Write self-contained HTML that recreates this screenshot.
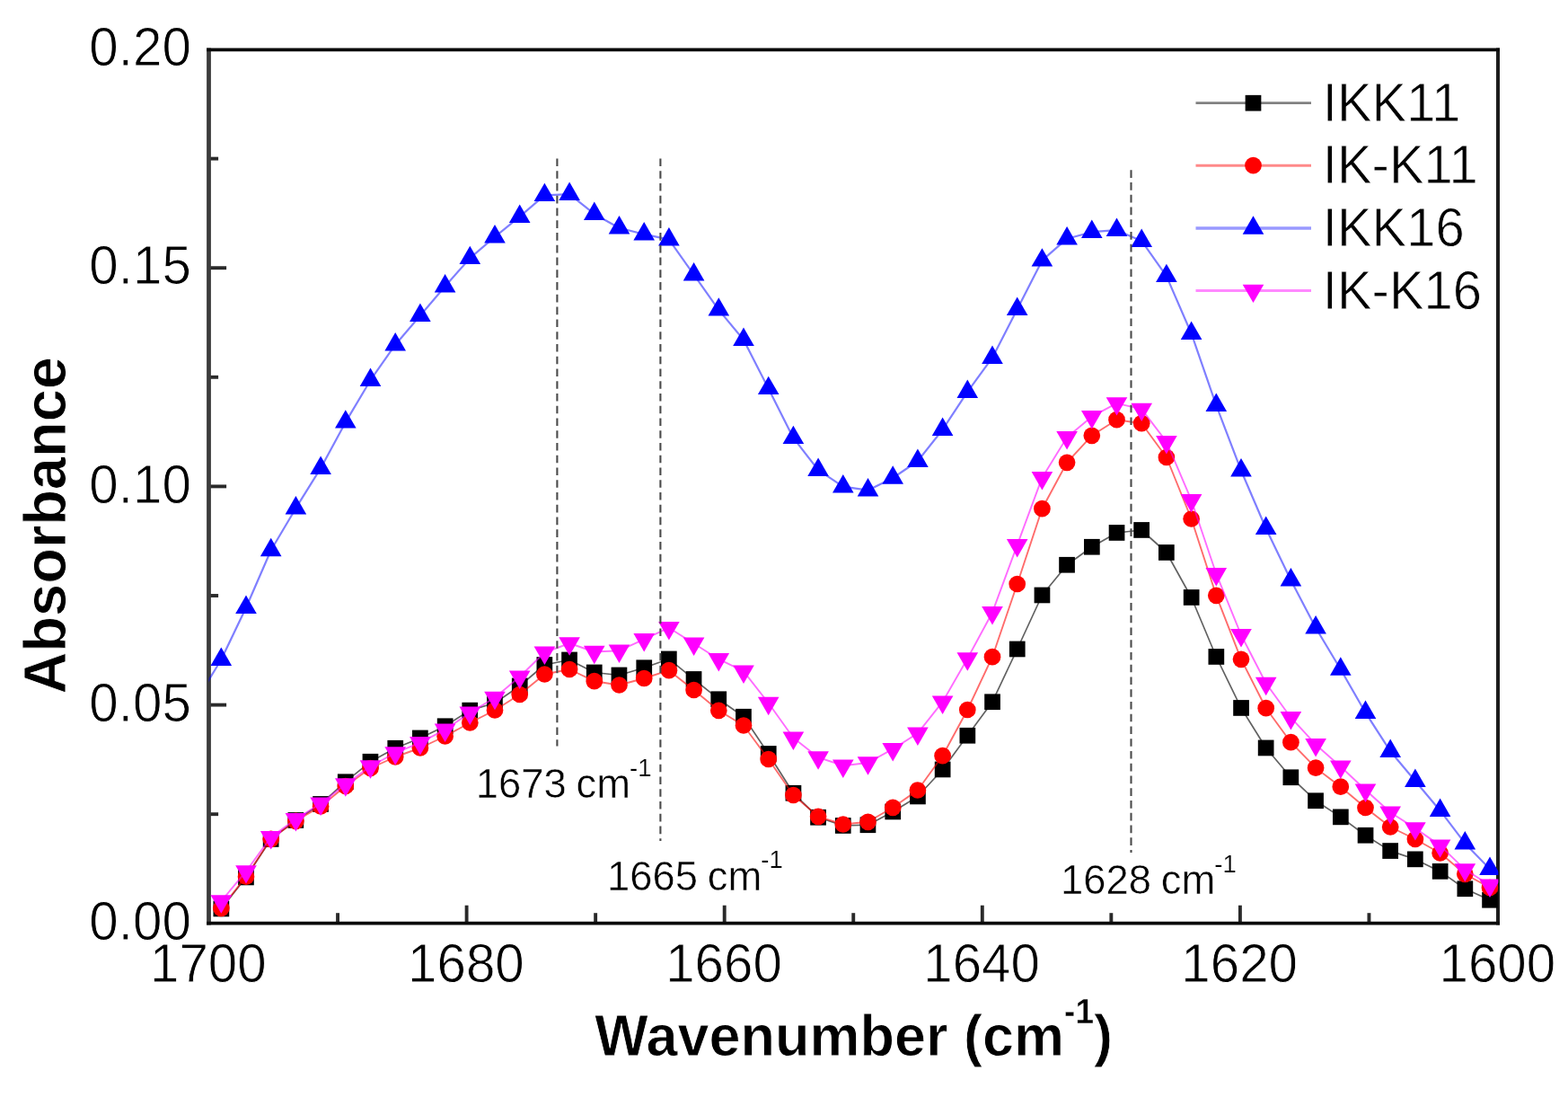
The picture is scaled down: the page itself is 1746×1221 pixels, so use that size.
<!DOCTYPE html>
<html lang="en">
<head>
<meta charset="utf-8">
<title>FTIR absorbance spectra</title>
<style>
html,body{margin:0;padding:0;background:#fff;}
body{width:1746px;height:1221px;overflow:hidden;}
svg{display:block;}
text{font-family:"Liberation Sans",sans-serif;fill:#000;stroke:#fff;stroke-width:0.8px;stroke-linejoin:round;}
.tick{font-size:58.3px;}
.title{font-size:63px;font-weight:bold;}
.ann{font-size:45.4px;word-spacing:-1.8px;stroke-width:0.5px;}
.leg{font-size:58px;}
</style>
</head>
<body>
<svg width="1746" height="1221" viewBox="0 0 1746 1221">
<rect x="0" y="0" width="1746" height="1221" fill="#fff"/>
<g>
<defs><clipPath id="plot"><rect x="232.4" y="55.0" width="1436.0" height="972.8"/></clipPath></defs>

<g stroke="#2a2a2a" stroke-width="3.9" fill="none">
<line x1="376.05" y1="1027.8" x2="376.05" y2="1016.2"/>
<line x1="519.60" y1="1027.8" x2="519.60" y2="1007.7"/>
<line x1="663.15" y1="1027.8" x2="663.15" y2="1016.2"/>
<line x1="806.70" y1="1027.8" x2="806.70" y2="1007.7"/>
<line x1="950.25" y1="1027.8" x2="950.25" y2="1016.2"/>
<line x1="1093.80" y1="1027.8" x2="1093.80" y2="1007.7"/>
<line x1="1237.35" y1="1027.8" x2="1237.35" y2="1016.2"/>
<line x1="1380.90" y1="1027.8" x2="1380.90" y2="1007.7"/>
<line x1="1524.45" y1="1027.8" x2="1524.45" y2="1016.2"/>
<line x1="232.5" y1="906.20" x2="243.1" y2="906.20"/>
<line x1="232.5" y1="784.60" x2="252.1" y2="784.60"/>
<line x1="232.5" y1="663.00" x2="243.1" y2="663.00"/>
<line x1="232.5" y1="541.40" x2="252.1" y2="541.40"/>
<line x1="232.5" y1="419.80" x2="243.1" y2="419.80"/>
<line x1="232.5" y1="298.20" x2="252.1" y2="298.20"/>
<line x1="232.5" y1="176.60" x2="243.1" y2="176.60"/>
</g>
<g fill="none" stroke-linecap="butt">
<line x1="232.5" y1="53.4" x2="232.5" y2="1029.6" stroke="#3c3c3c" stroke-width="4.8"/>
<line x1="1668" y1="53.4" x2="1668" y2="1029.6" stroke="#1c1c1c" stroke-width="4"/>
<line x1="230.1" y1="55.3" x2="1670" y2="55.3" stroke="#0a0a0a" stroke-width="3.7"/>
<line x1="230.1" y1="1027.7" x2="1670" y2="1027.7" stroke="#0a0a0a" stroke-width="3.8"/>
</g>
<g clip-path="url(#plot)">
<polyline points="246.3,1011.5 274.0,976.5 301.7,934.0 329.4,913.0 357.1,895.0 384.8,870.2 412.5,847.8 440.2,832.8 467.9,821.5 495.6,808.2 523.3,790.6 551.0,782.5 578.7,763.5 606.4,740.0 634.1,734.5 661.8,748.5 689.5,751.5 717.2,743.2 744.9,733.5 772.6,756.0 800.3,778.2 828.0,797.8 855.7,839.0 883.4,882.8 911.1,909.8 938.8,919.0 966.5,918.2 994.2,903.5 1021.9,886.5 1049.6,856.5 1077.3,818.8 1105.0,781.2 1132.7,722.5 1160.4,662.5 1188.1,628.8 1215.8,608.8 1243.5,593.0 1271.2,590.0 1298.9,615.0 1326.6,665.0 1354.3,731.0 1382.0,788.0 1409.7,832.5 1437.4,865.2 1465.1,891.2 1492.8,909.4 1520.5,929.7 1548.2,947.1 1575.9,956.4 1603.6,969.9 1631.3,989.2 1659.0,1001.7" fill="none" stroke="#000" stroke-width="1.7" stroke-opacity="0.62" stroke-linejoin="round"/>
<g fill="#000"><rect x="237.5" y="1002.6" width="17.7" height="17.7"/><rect x="265.1" y="967.6" width="17.7" height="17.7"/><rect x="292.8" y="925.1" width="17.7" height="17.7"/><rect x="320.5" y="904.1" width="17.7" height="17.7"/><rect x="348.2" y="886.1" width="17.7" height="17.7"/><rect x="375.9" y="861.4" width="17.7" height="17.7"/><rect x="403.6" y="838.9" width="17.7" height="17.7"/><rect x="431.4" y="823.9" width="17.7" height="17.7"/><rect x="459.0" y="812.6" width="17.7" height="17.7"/><rect x="486.8" y="799.4" width="17.7" height="17.7"/><rect x="514.4" y="781.8" width="17.7" height="17.7"/><rect x="542.1" y="773.6" width="17.7" height="17.7"/><rect x="569.9" y="754.6" width="17.7" height="17.7"/><rect x="597.5" y="731.1" width="17.7" height="17.7"/><rect x="625.2" y="725.6" width="17.7" height="17.7"/><rect x="652.9" y="739.6" width="17.7" height="17.7"/><rect x="680.6" y="742.6" width="17.7" height="17.7"/><rect x="708.4" y="734.4" width="17.7" height="17.7"/><rect x="736.0" y="724.6" width="17.7" height="17.7"/><rect x="763.7" y="747.1" width="17.7" height="17.7"/><rect x="791.4" y="769.4" width="17.7" height="17.7"/><rect x="819.1" y="788.9" width="17.7" height="17.7"/><rect x="846.9" y="830.1" width="17.7" height="17.7"/><rect x="874.6" y="873.9" width="17.7" height="17.7"/><rect x="902.2" y="900.9" width="17.7" height="17.7"/><rect x="929.9" y="910.1" width="17.7" height="17.7"/><rect x="957.6" y="909.4" width="17.7" height="17.7"/><rect x="985.4" y="894.6" width="17.7" height="17.7"/><rect x="1013.1" y="877.6" width="17.7" height="17.7"/><rect x="1040.8" y="847.6" width="17.7" height="17.7"/><rect x="1068.5" y="809.9" width="17.7" height="17.7"/><rect x="1096.2" y="772.4" width="17.7" height="17.7"/><rect x="1123.9" y="713.6" width="17.7" height="17.7"/><rect x="1151.6" y="653.6" width="17.7" height="17.7"/><rect x="1179.2" y="619.9" width="17.7" height="17.7"/><rect x="1207.0" y="599.9" width="17.7" height="17.7"/><rect x="1234.7" y="584.1" width="17.7" height="17.7"/><rect x="1262.3" y="581.1" width="17.7" height="17.7"/><rect x="1290.0" y="606.1" width="17.7" height="17.7"/><rect x="1317.8" y="656.1" width="17.7" height="17.7"/><rect x="1345.5" y="722.1" width="17.7" height="17.7"/><rect x="1373.2" y="779.1" width="17.7" height="17.7"/><rect x="1400.8" y="823.6" width="17.7" height="17.7"/><rect x="1428.5" y="856.4" width="17.7" height="17.7"/><rect x="1456.2" y="882.4" width="17.7" height="17.7"/><rect x="1484.0" y="900.5" width="17.7" height="17.7"/><rect x="1511.7" y="920.9" width="17.7" height="17.7"/><rect x="1539.3" y="938.2" width="17.7" height="17.7"/><rect x="1567.0" y="947.5" width="17.7" height="17.7"/><rect x="1594.8" y="961.0" width="17.7" height="17.7"/><rect x="1622.5" y="980.4" width="17.7" height="17.7"/><rect x="1650.2" y="992.9" width="17.7" height="17.7"/></g>
<polyline points="246.3,1010.8 274.0,975.7 301.7,933.8 329.4,913.8 357.1,897.5 384.8,875.0 412.5,855.0 440.2,842.5 467.9,832.5 495.6,819.5 523.3,804.5 551.0,790.5 578.7,773.0 606.4,750.5 634.1,745.0 661.8,758.2 689.5,762.5 717.2,755.0 744.9,746.2 772.6,768.0 800.3,790.8 828.0,807.5 855.7,845.0 883.4,885.0 911.1,908.8 938.8,917.5 966.5,914.8 994.2,898.8 1021.9,879.5 1049.6,841.2 1077.3,790.0 1105.0,731.2 1132.7,650.0 1160.4,566.2 1188.1,514.8 1215.8,484.8 1243.5,467.2 1271.2,471.2 1298.9,509.0 1326.6,577.5 1354.3,662.8 1382.0,733.8 1409.7,788.2 1437.4,826.2 1465.1,854.7 1492.8,875.7 1520.5,899.0 1548.2,920.5 1575.9,934.0 1603.6,949.5 1631.3,972.8 1659.0,988.0" fill="none" stroke="#f00" stroke-width="1.9" stroke-opacity="0.58" stroke-linejoin="round"/>
<g fill="#f00"><circle cx="246.3" cy="1010.8" r="9.35"/><circle cx="274.0" cy="975.7" r="9.35"/><circle cx="301.7" cy="933.8" r="9.35"/><circle cx="329.4" cy="913.8" r="9.35"/><circle cx="357.1" cy="897.5" r="9.35"/><circle cx="384.8" cy="875.0" r="9.35"/><circle cx="412.5" cy="855.0" r="9.35"/><circle cx="440.2" cy="842.5" r="9.35"/><circle cx="467.9" cy="832.5" r="9.35"/><circle cx="495.6" cy="819.5" r="9.35"/><circle cx="523.3" cy="804.5" r="9.35"/><circle cx="551.0" cy="790.5" r="9.35"/><circle cx="578.7" cy="773.0" r="9.35"/><circle cx="606.4" cy="750.5" r="9.35"/><circle cx="634.1" cy="745.0" r="9.35"/><circle cx="661.8" cy="758.2" r="9.35"/><circle cx="689.5" cy="762.5" r="9.35"/><circle cx="717.2" cy="755.0" r="9.35"/><circle cx="744.9" cy="746.2" r="9.35"/><circle cx="772.6" cy="768.0" r="9.35"/><circle cx="800.3" cy="790.8" r="9.35"/><circle cx="828.0" cy="807.5" r="9.35"/><circle cx="855.7" cy="845.0" r="9.35"/><circle cx="883.4" cy="885.0" r="9.35"/><circle cx="911.1" cy="908.8" r="9.35"/><circle cx="938.8" cy="917.5" r="9.35"/><circle cx="966.5" cy="914.8" r="9.35"/><circle cx="994.2" cy="898.8" r="9.35"/><circle cx="1021.9" cy="879.5" r="9.35"/><circle cx="1049.6" cy="841.2" r="9.35"/><circle cx="1077.3" cy="790.0" r="9.35"/><circle cx="1105.0" cy="731.2" r="9.35"/><circle cx="1132.7" cy="650.0" r="9.35"/><circle cx="1160.4" cy="566.2" r="9.35"/><circle cx="1188.1" cy="514.8" r="9.35"/><circle cx="1215.8" cy="484.8" r="9.35"/><circle cx="1243.5" cy="467.2" r="9.35"/><circle cx="1271.2" cy="471.2" r="9.35"/><circle cx="1298.9" cy="509.0" r="9.35"/><circle cx="1326.6" cy="577.5" r="9.35"/><circle cx="1354.3" cy="662.8" r="9.35"/><circle cx="1382.0" cy="733.8" r="9.35"/><circle cx="1409.7" cy="788.2" r="9.35"/><circle cx="1437.4" cy="826.2" r="9.35"/><circle cx="1465.1" cy="854.7" r="9.35"/><circle cx="1492.8" cy="875.7" r="9.35"/><circle cx="1520.5" cy="899.0" r="9.35"/><circle cx="1548.2" cy="920.5" r="9.35"/><circle cx="1575.9" cy="934.0" r="9.35"/><circle cx="1603.6" cy="949.5" r="9.35"/><circle cx="1631.3" cy="972.8" r="9.35"/><circle cx="1659.0" cy="988.0" r="9.35"/></g>
<polyline points="218.6,779.6 246.3,734.2 274.0,676.2 301.7,612.5 329.4,565.7 357.1,521.2 384.8,469.9 412.5,423.2 440.2,383.7 467.9,351.2 495.6,318.7 523.3,287.4 551.0,263.7 578.7,241.2 606.4,217.4 634.1,216.2 661.8,238.2 689.5,253.7 717.2,260.7 744.9,266.7 772.6,305.7 800.3,344.9 828.0,378.2 855.7,432.4 883.4,487.4 911.1,523.2 938.8,541.7 966.5,545.7 994.2,532.0 1021.9,513.2 1049.6,478.2 1077.3,436.2 1105.0,398.2 1132.7,344.2 1160.4,289.9 1188.1,265.7 1215.8,258.2 1243.5,256.2 1271.2,268.2 1298.9,307.4 1326.6,371.2 1354.3,451.2 1382.0,523.7 1409.7,588.2 1437.4,645.7 1465.1,698.7 1492.8,745.0 1520.5,793.2 1548.2,836.2 1575.9,869.2 1603.6,902.2 1631.3,938.7 1659.0,967.2" fill="none" stroke="#00f" stroke-width="2.2" stroke-opacity="0.5" stroke-linejoin="round"/>
<g fill="#00f"><polygon points="246.3,720.5 234.5,740.9 258.1,740.9"/><polygon points="274.0,662.5 262.2,682.9 285.8,682.9"/><polygon points="301.7,598.8 289.9,619.2 313.5,619.2"/><polygon points="329.4,552.0 317.6,572.4 341.2,572.4"/><polygon points="357.1,507.5 345.3,527.9 368.9,527.9"/><polygon points="384.8,456.2 373.0,476.6 396.6,476.6"/><polygon points="412.5,409.5 400.7,429.9 424.3,429.9"/><polygon points="440.2,370.0 428.4,390.4 452.0,390.4"/><polygon points="467.9,337.5 456.1,357.9 479.7,357.9"/><polygon points="495.6,305.0 483.8,325.4 507.4,325.4"/><polygon points="523.3,273.8 511.5,294.1 535.1,294.1"/><polygon points="551.0,250.0 539.2,270.4 562.8,270.4"/><polygon points="578.7,227.5 566.9,247.9 590.5,247.9"/><polygon points="606.4,203.8 594.6,224.1 618.2,224.1"/><polygon points="634.1,202.5 622.3,222.9 645.9,222.9"/><polygon points="661.8,224.5 650.0,244.9 673.6,244.9"/><polygon points="689.5,240.0 677.7,260.4 701.3,260.4"/><polygon points="717.2,247.0 705.4,267.4 729.0,267.4"/><polygon points="744.9,253.0 733.1,273.4 756.7,273.4"/><polygon points="772.6,292.0 760.8,312.4 784.4,312.4"/><polygon points="800.3,331.2 788.5,351.6 812.1,351.6"/><polygon points="828.0,364.5 816.2,384.9 839.8,384.9"/><polygon points="855.7,418.8 843.9,439.1 867.5,439.1"/><polygon points="883.4,473.8 871.6,494.1 895.2,494.1"/><polygon points="911.1,509.5 899.3,529.9 922.9,529.9"/><polygon points="938.8,528.0 927.0,548.4 950.6,548.4"/><polygon points="966.5,532.0 954.7,552.4 978.3,552.4"/><polygon points="994.2,518.2 982.4,538.7 1006.0,538.7"/><polygon points="1021.9,499.5 1010.1,519.9 1033.7,519.9"/><polygon points="1049.6,464.5 1037.8,484.9 1061.4,484.9"/><polygon points="1077.3,422.5 1065.5,442.9 1089.1,442.9"/><polygon points="1105.0,384.5 1093.2,404.9 1116.8,404.9"/><polygon points="1132.7,330.5 1120.9,350.9 1144.5,350.9"/><polygon points="1160.4,276.2 1148.6,296.6 1172.2,296.6"/><polygon points="1188.1,252.0 1176.3,272.4 1199.9,272.4"/><polygon points="1215.8,244.5 1204.0,264.9 1227.6,264.9"/><polygon points="1243.5,242.5 1231.7,262.9 1255.3,262.9"/><polygon points="1271.2,254.5 1259.4,274.9 1283.0,274.9"/><polygon points="1298.9,293.8 1287.1,314.1 1310.7,314.1"/><polygon points="1326.6,357.5 1314.8,377.9 1338.4,377.9"/><polygon points="1354.3,437.5 1342.5,457.9 1366.1,457.9"/><polygon points="1382.0,510.0 1370.2,530.4 1393.8,530.4"/><polygon points="1409.7,574.5 1397.9,594.9 1421.5,594.9"/><polygon points="1437.4,632.0 1425.6,652.4 1449.2,652.4"/><polygon points="1465.1,685.0 1453.3,705.4 1476.9,705.4"/><polygon points="1492.8,731.2 1481.0,751.7 1504.6,751.7"/><polygon points="1520.5,779.5 1508.7,799.9 1532.3,799.9"/><polygon points="1548.2,822.5 1536.4,842.9 1560.0,842.9"/><polygon points="1575.9,855.5 1564.1,875.9 1587.7,875.9"/><polygon points="1603.6,888.5 1591.8,908.9 1615.4,908.9"/><polygon points="1631.3,925.0 1619.5,945.4 1643.1,945.4"/><polygon points="1659.0,953.5 1647.2,973.9 1670.8,973.9"/></g>
<polyline points="246.3,1003.0 274.0,969.9 301.7,931.7 329.4,911.7 357.1,894.2 384.8,873.0 412.5,853.0 440.2,838.0 467.9,826.7 495.6,812.2 523.3,793.3 551.0,776.5 578.7,753.3 606.4,726.3 634.1,716.0 661.8,725.5 689.5,724.2 717.2,711.7 744.9,698.7 772.6,716.2 800.3,733.7 828.0,747.2 855.7,782.5 883.4,821.2 911.1,843.0 938.8,852.2 966.5,849.0 994.2,833.7 1021.9,816.2 1049.6,781.2 1077.3,733.0 1105.0,681.7 1132.7,606.7 1160.4,531.7 1188.1,486.7 1215.8,463.7 1243.5,448.9 1271.2,455.4 1298.9,491.7 1326.6,556.7 1354.3,638.7 1382.0,706.7 1409.7,760.5 1437.4,798.7 1465.1,828.7 1492.8,853.2 1520.5,879.2 1548.2,904.2 1575.9,921.9 1603.6,941.1 1631.3,967.9 1659.0,985.3" fill="none" stroke="#f0f" stroke-width="1.9" stroke-opacity="0.58" stroke-linejoin="round"/>
<g fill="#f0f"><polygon points="246.3,1016.7 234.5,996.3 258.1,996.3"/><polygon points="274.0,983.6 262.2,963.2 285.8,963.2"/><polygon points="301.7,945.4 289.9,925.0 313.5,925.0"/><polygon points="329.4,925.4 317.6,905.0 341.2,905.0"/><polygon points="357.1,907.9 345.3,887.5 368.9,887.5"/><polygon points="384.8,886.7 373.0,866.2 396.6,866.2"/><polygon points="412.5,866.7 400.7,846.2 424.3,846.2"/><polygon points="440.2,851.7 428.4,831.2 452.0,831.2"/><polygon points="467.9,840.4 456.1,820.0 479.7,820.0"/><polygon points="495.6,825.9 483.8,805.5 507.4,805.5"/><polygon points="523.3,807.0 511.5,786.6 535.1,786.6"/><polygon points="551.0,790.2 539.2,769.8 562.8,769.8"/><polygon points="578.7,767.0 566.9,746.6 590.5,746.6"/><polygon points="606.4,740.0 594.6,719.6 618.2,719.6"/><polygon points="634.1,729.7 622.3,709.3 645.9,709.3"/><polygon points="661.8,739.2 650.0,718.8 673.6,718.8"/><polygon points="689.5,737.9 677.7,717.5 701.3,717.5"/><polygon points="717.2,725.4 705.4,705.0 729.0,705.0"/><polygon points="744.9,712.4 733.1,692.0 756.7,692.0"/><polygon points="772.6,729.9 760.8,709.5 784.4,709.5"/><polygon points="800.3,747.4 788.5,727.0 812.1,727.0"/><polygon points="828.0,760.9 816.2,740.5 839.8,740.5"/><polygon points="855.7,796.2 843.9,775.8 867.5,775.8"/><polygon points="883.4,834.9 871.6,814.5 895.2,814.5"/><polygon points="911.1,856.7 899.3,836.2 922.9,836.2"/><polygon points="938.8,865.9 927.0,845.5 950.6,845.5"/><polygon points="966.5,862.7 954.7,842.2 978.3,842.2"/><polygon points="994.2,847.4 982.4,827.0 1006.0,827.0"/><polygon points="1021.9,829.9 1010.1,809.5 1033.7,809.5"/><polygon points="1049.6,794.9 1037.8,774.5 1061.4,774.5"/><polygon points="1077.3,746.7 1065.5,726.2 1089.1,726.2"/><polygon points="1105.0,695.4 1093.2,675.0 1116.8,675.0"/><polygon points="1132.7,620.4 1120.9,600.0 1144.5,600.0"/><polygon points="1160.4,545.4 1148.6,525.0 1172.2,525.0"/><polygon points="1188.1,500.4 1176.3,480.0 1199.9,480.0"/><polygon points="1215.8,477.4 1204.0,457.0 1227.6,457.0"/><polygon points="1243.5,462.6 1231.7,442.2 1255.3,442.2"/><polygon points="1271.2,469.1 1259.4,448.8 1283.0,448.8"/><polygon points="1298.9,505.4 1287.1,485.0 1310.7,485.0"/><polygon points="1326.6,570.4 1314.8,550.0 1338.4,550.0"/><polygon points="1354.3,652.4 1342.5,632.0 1366.1,632.0"/><polygon points="1382.0,720.4 1370.2,700.0 1393.8,700.0"/><polygon points="1409.7,774.2 1397.9,753.8 1421.5,753.8"/><polygon points="1437.4,812.4 1425.6,792.0 1449.2,792.0"/><polygon points="1465.1,842.4 1453.3,822.0 1476.9,822.0"/><polygon points="1492.8,866.9 1481.0,846.5 1504.6,846.5"/><polygon points="1520.5,892.9 1508.7,872.5 1532.3,872.5"/><polygon points="1548.2,917.9 1536.4,897.5 1560.0,897.5"/><polygon points="1575.9,935.6 1564.1,915.2 1587.7,915.2"/><polygon points="1603.6,954.8 1591.8,934.4 1615.4,934.4"/><polygon points="1631.3,981.6 1619.5,961.2 1643.1,961.2"/><polygon points="1659.0,999.0 1647.2,978.6 1670.8,978.6"/></g>
</g>
<g stroke="#4a4a4a" stroke-width="2.1" stroke-dasharray="8.6 5.16" fill="none">
<line x1="620.4" y1="176.5" x2="620.4" y2="830.5"/>
<line x1="735.4" y1="176.5" x2="735.4" y2="936"/>
<line x1="1259.5" y1="189.3" x2="1259.5" y2="949"/>
</g>
<text class="tick" text-anchor="middle" transform="translate(231.80,1093.00) scale(1,1.06)">1700</text>
<text class="tick" text-anchor="middle" transform="translate(518.90,1093.00) scale(1,1.06)">1680</text>
<text class="tick" text-anchor="middle" transform="translate(806.00,1093.00) scale(1,1.06)">1660</text>
<text class="tick" text-anchor="middle" transform="translate(1093.10,1093.00) scale(1,1.06)">1640</text>
<text class="tick" text-anchor="middle" transform="translate(1380.20,1093.00) scale(1,1.06)">1620</text>
<text class="tick" text-anchor="middle" transform="translate(1667.30,1093.00) scale(1,1.06)">1600</text>
<text class="tick" text-anchor="end" transform="translate(212.80,1046.00) scale(1,1.06)">0.00</text>
<text class="tick" text-anchor="end" transform="translate(212.80,802.80) scale(1,1.06)">0.05</text>
<text class="tick" text-anchor="end" transform="translate(212.80,559.60) scale(1,1.06)">0.10</text>
<text class="tick" text-anchor="end" transform="translate(212.80,316.40) scale(1,1.06)">0.15</text>
<text class="tick" text-anchor="end" transform="translate(212.80,73.20) scale(1,1.06)">0.20</text>
<text class="title" transform="translate(662.30,1174.70) scale(1,1.035)">Wavenumber (cm<tspan font-size="37px" dy="-34.5" style="stroke-width:0.4px">-1</tspan><tspan dy="34.5">)</tspan></text>
<text class="title" style="font-size:65px" text-anchor="middle" transform="translate(73.4,584.8) rotate(-90) scale(1,1.02)">Absorbance</text>
<text class="ann" transform="translate(529.80,888.10) scale(1,1.03)">1673 cm<tspan font-size="27.5px" dy="-23.8" dx="-1" style="stroke-width:0.2px">-1</tspan></text>
<text class="ann" transform="translate(676.00,990.70) scale(1,1.03)">1665 cm<tspan font-size="27.5px" dy="-23.8" dx="-1" style="stroke-width:0.2px">-1</tspan></text>
<text class="ann" transform="translate(1181.00,995.30) scale(1,1.03)">1628 cm<tspan font-size="27.5px" dy="-23.8" dx="-1" style="stroke-width:0.2px">-1</tspan></text>
<line x1="1331.5" y1="114.7" x2="1460" y2="114.7" stroke="#000" stroke-width="2.72" stroke-opacity="0.496"/>
<rect x="1386.65" y="105.85" width="17.7" height="17.7" fill="#000"/>
<text class="leg" transform="translate(1472.80,134.50) scale(1,1.06)">IKK11</text>
<line x1="1331.5" y1="184.2" x2="1460" y2="184.2" stroke="#f00" stroke-width="3.04" stroke-opacity="0.46399999999999997"/>
<circle cx="1395.5" cy="184.2" r="9.35" fill="#f00"/>
<text class="leg" transform="translate(1472.80,204.30) scale(1,1.06)">IK-K11</text>
<line x1="1331.5" y1="254.0" x2="1460" y2="254.0" stroke="#00f" stroke-width="3.5200000000000005" stroke-opacity="0.4"/>
<g fill="#00f"><polygon points="1395.5,240.3 1383.7,260.7 1407.3,260.7"/></g>
<text class="leg" transform="translate(1472.80,274.10) scale(1,1.06)">IKK16</text>
<line x1="1331.5" y1="323.4" x2="1460" y2="323.4" stroke="#f0f" stroke-width="3.04" stroke-opacity="0.46399999999999997"/>
<g fill="#f0f"><polygon points="1395.5,337.1 1383.7,316.7 1407.3,316.7"/></g>
<text class="leg" transform="translate(1472.80,343.90) scale(1,1.06)">IK-K16</text>
</g>
</svg>
</body>
</html>
